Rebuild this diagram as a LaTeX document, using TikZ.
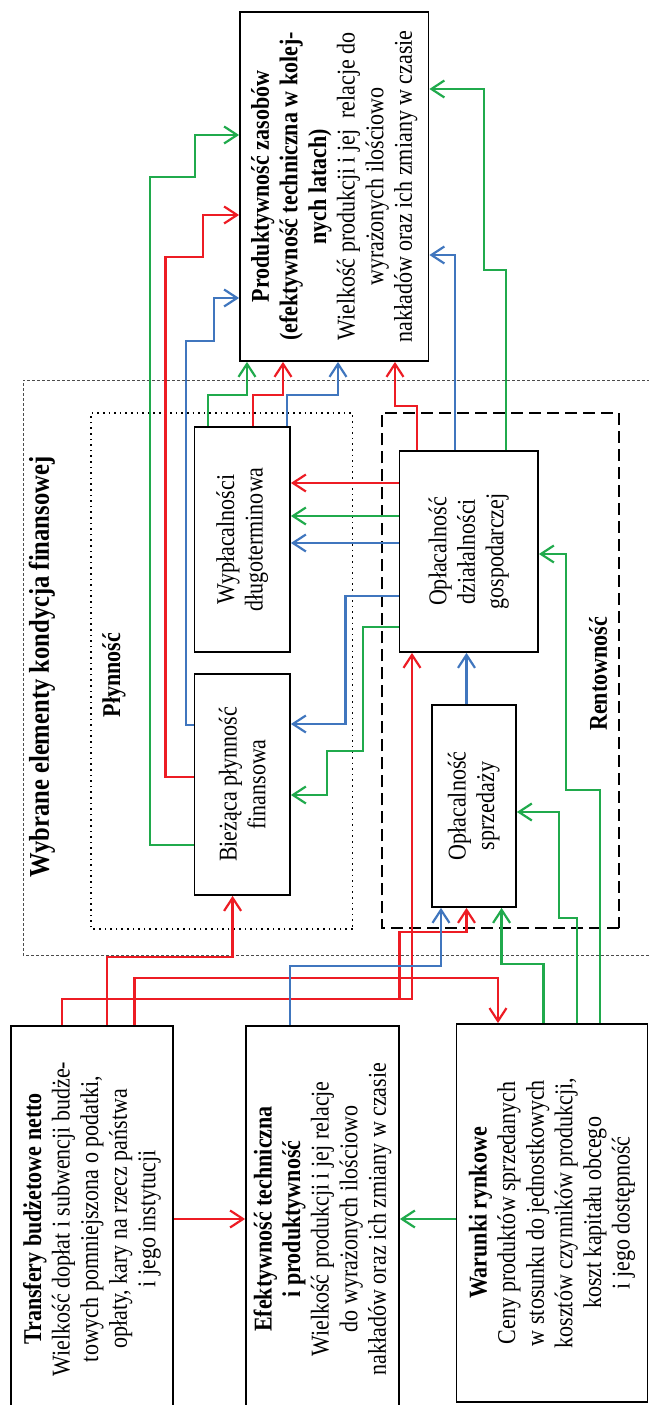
\documentclass[tikz,border=0pt]{standalone}
\usepackage{fontspec}
\setmainfont[FakeStretch=0.86]{Liberation Serif}
\usepackage{xcolor}
\usepackage{tikz}
\usetikzlibrary{arrows.meta}

\definecolor{lred}{RGB}{237,28,36}
\definecolor{lgreen}{RGB}{32,170,76}
\definecolor{lblue}{RGB}{64,118,190}

\tikzset{
  box/.style={draw, line width=0.9pt, align=center, inner sep=0pt,
    font=\fontsize{12.8}{14.3}\selectfont},
  redl/.style={draw=lred, line width=1.1pt},
  greenl/.style={draw=lgreen, line width=1.1pt},
  bluel/.style={draw=lblue, line width=1.1pt},
  arr/.style={-{Straight Barb[length=6.5pt,width=8.5pt]}},
  grouptitle/.style={font=\fontsize{12.8}{14.3}\selectfont\bfseries}
}

\begin{document}
\begin{tikzpicture}[x=0.5pt, y=0.5pt, rotate=90, transform shape]
\useasboundingbox (0,0) rectangle (1405,649);
\clip (0,0) rectangle (1405,649);

\draw[
    line width=0.4pt,
    color=black!70,
    dash pattern=on 1.5pt off 1pt
    ] (450,-10) rectangle (1025,626);
\draw[
    line width=0.8pt,
    dotted
    ] (476,296.4) rectangle (992,558);
\draw[
    line width=1pt,
    dash pattern=on 6pt off 3pt
    ] (477,30) rectangle (992,267.4);

\node[font=\fontsize{14.3}{16}\selectfont\bfseries] (kondycja) at (738,607) {Wybrane elementy kondycja finansowej};
\node[grouptitle] (plynnosc) at (730,535) {Płynność};
\node[grouptitle] (rentownosc) at (731,51) {Rentowność};

\node[box, minimum width=193pt, minimum height=81.25pt] (transfery) at (186,557)
  {\textbf{Transfery budżetowe netto}\\Wielkość dopłat i subwencji budże-\\towych pomniejszona o podatki,\\opłaty, kary na rzecz państwa\\i jego instytucji};
\node[box, minimum width=193pt, minimum height=76.5pt] (efekt) at (186,326.5)
  {\textbf{Efektywność techniczna}\\\textbf{i produktywność}\\Wielkość produkcji i jej relacje\\do wyrażonych ilościowo\\nakładów oraz ich zmiany w czasie};
\node[box, minimum width=189pt, minimum height=95.5pt] (warunki) at (192,97)
  {\textbf{Warunki rynkowe}\\Ceny produktów sprzedanych\\w stosunku do jednostkowych\\kosztów czynników produkcji,\\koszt kapitału obcego\\i jego dostępność};
\node[box, minimum width=174.5pt, minimum height=94.25pt] (produkt) at (1218.5,314.75)
  {\textbf{Produktywność zasobów}\\\textbf{(efektywność techniczna w kolej-}\\\textbf{nych latach)}\\Wielkość produkcji i jej\ \ relacje do\\wyrażonych ilościowo\\nakładów oraz ich zmiany w czasie};
\node[box, minimum width=112.5pt, minimum height=47.75pt] (wyplac) at (865.5,406.75)
  {Wypłacalności\\długoterminowa};
\node[box, minimum width=100.5pt, minimum height=69.25pt] (oplDz) at (853.5,180.25)
  {Opłacalność\\działalności\\gospodarczej};
\node[box, minimum width=110.5pt, minimum height=47.75pt] (biez) at (620.5,406.75)
  {Bieżąca płynność\\finansowa};
\node[box, minimum width=101pt, minimum height=42.15pt] (oplSp) at (599,175.2)
  {Opłacalność\\sprzedaży};

% wejscia z otoczenia
\draw[redl, arr] (transfery.south) -- (efekt.north);
\draw[greenl, arr] (warunki.north -| efekt.south) -- (efekt.south);
\draw[redl, arr] (transfery.east |- 0,587) -- (406,587) -- (406,237) -- (oplDz.west |- 0,237);
\draw[redl, arr] (406,249.5) -- (473,249.5) -- (473,182.5) -- (oplSp.west |- 0,182.5);
\draw[redl, arr] (transfery.east |- 0,542) -- (448,542) -- (448,416.4) -- (biez.west |- 0,416.4);
\draw[redl, arr] (transfery.east |- 0,514.5) -- (427,514.5) -- (427,151) -- (warunki.east |- 0,151);
\draw[bluel, arr] (efekt.east |- 0,359) -- (439,359) -- (439,208) -- (oplSp.west |- 0,208);
\draw[greenl, arr] (warunki.east |- 0,105.5) -- (441,105.5) -- (441,147.4) -- (oplSp.west |- 0,147.4);
\draw[greenl, arr] (warunki.east |- 0,72) -- (487,72) -- (487,90) -- (593,90) -- (oplSp.south -| 593,0);
\draw[greenl, arr] (warunki.east |- 0,49) -- (615,49) -- (615,83) -- (851,83) -- (oplDz.south -| 851,0);

% rentownosc
\draw[bluel, arr] (oplSp.east |- 0,182.5) -- (oplDz.west |- 0,182.5);
\foreach \xx/\cc in {922/lred, 889/lgreen, 862/lblue}
  \draw[draw=\cc, line width=1.1pt, arr] (oplDz.north -| \xx,0) -- (wyplac.south -| \xx,0);
\draw[bluel, arr] (oplDz.north -| 809,0) -- (809,303.4) -- (681,303.4) -- (biez.south -| 681,0);
\draw[greenl, arr] (oplDz.north -| 778,0) -- (778,286) -- (654,286) -- (654,322) -- (610,322) -- (biez.south -| 610,0);

% do produktywnosci
\draw[greenl, arr] (wyplac.east |- 0,441) -- (1010,441) -- (1010,402) -- (produkt.west |- 0,402);
\draw[redl, arr] (wyplac.east |- 0,396) -- (1010,396) -- (1010,366) -- (produkt.west |- 0,366);
\draw[bluel, arr] (wyplac.east |- 0,362) -- (1010,362) -- (1010,311) -- (produkt.west |- 0,311);
\draw[redl, arr] (oplDz.east |- 0,232) -- (999,232) -- (999,254) -- (produkt.west |- 0,254);
\draw[bluel, arr] (oplDz.east |- 0,194) -- (1150,194) -- (produkt.south -| 1150,0);
\draw[greenl, arr] (oplDz.east |- 0,143) -- (1135,143) -- (1135,165) -- (1316,165) -- (produkt.south -| 1316,0);
\draw[greenl, arr] (biez.north -| 560,0) -- (560,499) -- (1228,499) -- (1228,454) -- (1270,454) -- (produkt.north -| 1270,0);
\draw[redl, arr] (biez.north -| 628,0) -- (628,483.5) -- (1148,483.5) -- (1148,446) -- (1190,446) -- (produkt.north -| 1190,0);
\draw[bluel, arr] (biez.north -| 680,0) -- (680,463) -- (1064,463) -- (1064,435) -- (1107,435) -- (produkt.north -| 1107,0);

\end{tikzpicture}
\end{document}
